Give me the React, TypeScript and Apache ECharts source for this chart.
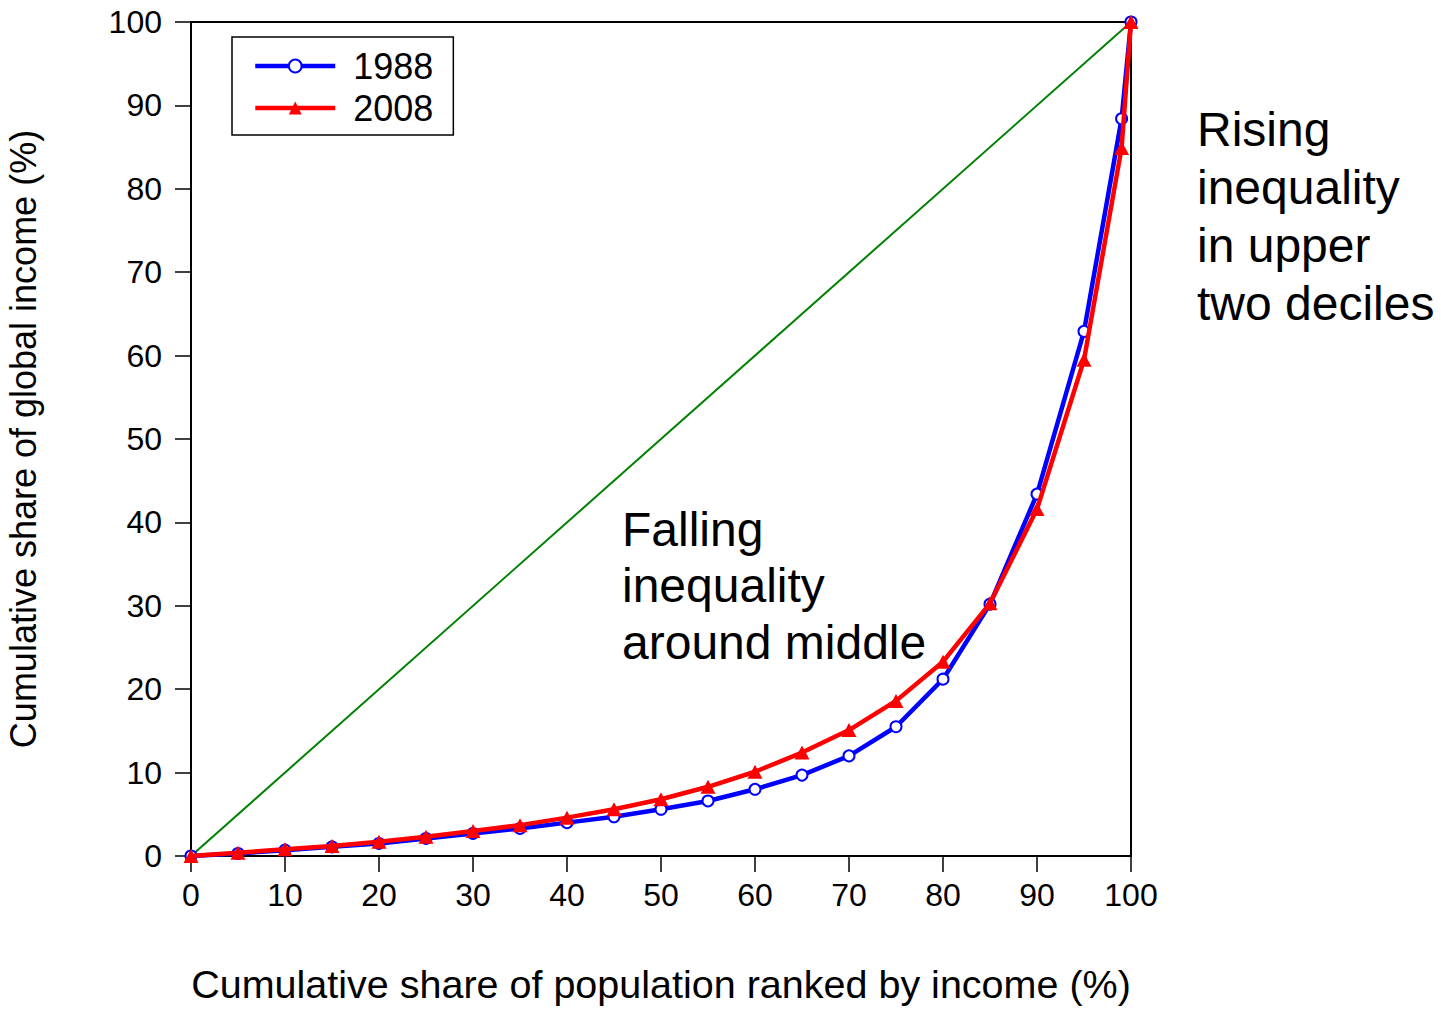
import React, { useEffect, useRef } from "react";
import * as echarts from "echarts";

const populationShare = [0, 5, 10, 15, 20, 25, 30, 35, 40, 45, 50, 55, 60, 65, 70, 75, 80, 85, 90, 95, 99, 100];
const income1988 = [0, 0.3, 0.7, 1.1, 1.5, 2.1, 2.7, 3.3, 4.0, 4.7, 5.6, 6.6, 8.0, 9.7, 12.0, 15.5, 21.2, 30.2, 43.4, 62.9, 88.4, 100];
const income2008 = [0, 0.4, 0.8, 1.2, 1.7, 2.3, 3.0, 3.7, 4.6, 5.6, 6.8, 8.3, 10.1, 12.4, 15.1, 18.6, 23.3, 30.3, 41.6, 59.5, 84.9, 100];
const equalityLine = [[0, 0], [100, 100]];
const seriesNames = ["1988", "2008"];
const xTitle = "Cumulative share of population ranked by income (%)";
const yTitle = "Cumulative share of global income (%)";
const noteMiddle = "Falling\ninequality\naround middle";
const noteUpper = "Rising\ninequality\nin upper\ntwo deciles";

const FONT = "'Liberation Sans', Arial, sans-serif";

export default function App() {
  const ref = useRef<HTMLDivElement>(null);
  useEffect(() => {
    document.body.style.margin = "0";
    if (!ref.current) return;
    const chart = echarts.init(ref.current, undefined, { renderer: "svg" });
    const pairs = (ys: number[]) => populationShare.map((x, i) => [x, ys[i]]);
    chart.setOption({
      animation: false,
      backgroundColor: "#ffffff",
      textStyle: { fontFamily: FONT },
      grid: {
        left: 191,
        top: 22,
        right: 310,
        bottom: 153,
        containLabel: false,
        outerBoundsMode: "none",
        show: true,
        borderColor: "#000",
        borderWidth: 2,
        backgroundColor: "transparent",
      },
      legend: {
        data: seriesNames,
        orient: "vertical",
        left: 232,
        top: 37,
        padding: [11, 20, 9, 21],
        itemGap: 6,
        itemWidth: 80,
        itemHeight: 16,
        borderColor: "#000",
        borderWidth: 1.5,
        backgroundColor: "#fff",
        lineStyle: { width: 4.5 },
        textStyle: { fontFamily: FONT, fontSize: 36, color: "#000", lineHeight: 36, padding: [0, 0, 0, 13] },
      },
      xAxis: {
        type: "value",
        min: 0,
        max: 100,
        interval: 10,
        name: xTitle,
        nameLocation: "middle",
        nameGap: 108,
        nameTextStyle: { fontFamily: FONT, fontSize: 39.5, color: "#000" },
        axisLine: { show: true, lineStyle: { color: "#000", width: 2 } },
        axisTick: { show: true, inside: false, length: 16, lineStyle: { color: "#000", width: 1.5 } },
        axisLabel: { fontFamily: FONT, fontSize: 32, color: "#000", margin: 23 },
        splitLine: { show: false },
      },
      yAxis: {
        type: "value",
        min: 0,
        max: 100,
        interval: 10,
        name: yTitle,
        nameLocation: "middle",
        nameGap: 150,
        nameTextStyle: { fontFamily: FONT, fontSize: 36, color: "#000" },
        axisLine: { show: true, lineStyle: { color: "#000", width: 2 } },
        axisTick: { show: true, inside: false, length: 16, lineStyle: { color: "#000", width: 1.5 } },
        axisLabel: { fontFamily: FONT, fontSize: 32, color: "#000", margin: 29 },
        splitLine: { show: false },
      },
      series: [
        {
          name: "equality",
          type: "line",
          data: equalityLine,
          symbol: "none",
          lineStyle: { color: "#008000", width: 2 },
          z: 1,
          silent: true,
        },
        {
          name: seriesNames[0],
          type: "line",
          data: pairs(income1988),
          symbol: "emptyCircle",
          symbolSize: 11,
          itemStyle: { color: "#0000ff", borderColor: "#0000ff", borderWidth: 2.5 },
          lineStyle: { color: "#0000ff", width: 4.5 },
          z: 2,
        },
        {
          name: seriesNames[1],
          type: "line",
          data: pairs(income2008),
          symbol: "triangle",
          symbolSize: [15, 14],
          itemStyle: { color: "#ff0000" },
          lineStyle: { color: "#ff0000", width: 4.5 },
          z: 3,
        },
      ],
      graphic: [
        {
          type: "text",
          left: 622,
          top: 501,
          style: { text: noteMiddle, font: `48px ${FONT}`, fill: "#000", lineHeight: 56.5 },
        },
        {
          type: "text",
          left: 1197,
          top: 100,
          style: { text: noteUpper, font: `48px ${FONT}`, fill: "#000", lineHeight: 58 },
        },
      ],
    });
    return () => chart.dispose();
  }, []);
  return <div ref={ref} style={{ position: "absolute", left: 0, top: 0, width: 1441, height: 1009 }} />;
}
